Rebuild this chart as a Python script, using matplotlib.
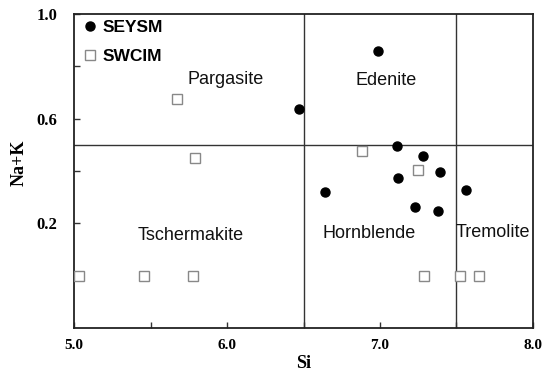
import numpy as np
import matplotlib.pyplot as plt

# SEYSM (filled circles)
seysm_si = [6.99, 6.47, 7.11, 7.28, 7.39, 7.12, 6.64, 7.56, 7.23, 7.38]
seysm_nak = [0.858, 0.637, 0.497, 0.456, 0.398, 0.373, 0.318, 0.328, 0.263, 0.248]

# SWCIM (open squares)
swcim_si = [5.67, 5.79, 6.88, 7.25, 5.03, 5.46, 5.78, 7.29, 7.52, 7.65]
swcim_nak = [0.677, 0.451, 0.475, 0.405, 0.0, 0.0, 0.0, 0.0, 0.0, 0.0]

# field names and label spots
fields = ['Pargasite', 'Edenite', 'Tschermakite', 'Hornblende', 'Tremolite']
field_x = [5.99, 7.04, 5.76, 6.93, 7.74]
field_y = [0.75, 0.744, 0.153, 0.16, 0.164]

x_ticks = [5.0, 6.0, 7.0, 8.0]
x_minor = [5.5, 6.5, 7.5]
y_ticks = [0.2, 0.6, 1.0]
y_minor = [0.0, 0.4, 0.8]

fig = plt.figure(figsize=(5.47, 3.73), dpi=100)
ax = fig.add_axes([0.1353, 0.1206, 0.9744 - 0.1353, 0.9625 - 0.1206])

# field boundaries
ax.axvline(6.5, color='#333333', lw=1.0, zorder=1)
ax.axvline(7.5, color='#333333', lw=1.0, zorder=1)
ax.axhline(0.5, color='#333333', lw=1.0, zorder=1)

ax.plot(seysm_si, seysm_nak, 'o', color='black', ms=6.5, ls='none', label='SEYSM', zorder=3)
ax.plot(swcim_si, swcim_nak, 's', mfc='white', mec='#888888', mew=1.0, ms=7.5, ls='none',
        label='SWCIM', zorder=3)

for name, fx, fy in zip(fields, field_x, field_y):
    ax.text(fx, fy, name, ha='center', va='center', fontsize=13,
            family='Liberation Sans', color='#111111')

ax.set_xlim(5.0, 8.0)
ax.set_ylim(-0.2, 1.0)
ax.set_xticks(x_ticks)
ax.set_xticks(x_minor, minor=True)
ax.set_yticks(y_ticks)
ax.set_yticks(y_minor, minor=True)
ax.set_xticklabels(['%.1f' % v for v in x_ticks])
ax.set_yticklabels(['%.1f' % v for v in y_ticks])

for lab in ax.get_xticklabels():
    lab.set_fontfamily('Liberation Serif')
    lab.set_fontweight('bold')
    lab.set_fontsize(11)
for lab in ax.get_yticklabels():
    lab.set_fontfamily('Liberation Serif')
    lab.set_fontweight('bold')
    lab.set_fontsize(12)

ax.tick_params(which='both', direction='in', length=4, width=1, color='#333333')
ax.tick_params(axis='x', pad=8)
ax.tick_params(axis='y', pad=12)

for sp in ax.spines.values():
    sp.set_linewidth(1.3)
    sp.set_color('#222222')

ax.set_xlabel('Si', fontdict={'family': 'Liberation Serif', 'weight': 'bold', 'size': 13}, labelpad=2)
ax.set_ylabel('Na+K', fontdict={'family': 'Liberation Serif', 'weight': 'bold', 'size': 13})
ax.yaxis.set_label_coords(-0.1, 0.525)

leg = ax.legend(loc='upper left', bbox_to_anchor=(-0.01, 1.02), frameon=False,
                prop={'family': 'Liberation Sans', 'weight': 'bold', 'size': 12.5},
                handletextpad=0.2, handlelength=1.0, labelspacing=0.8, borderaxespad=0.3)

fig.savefig('out.png', dpi=100)
